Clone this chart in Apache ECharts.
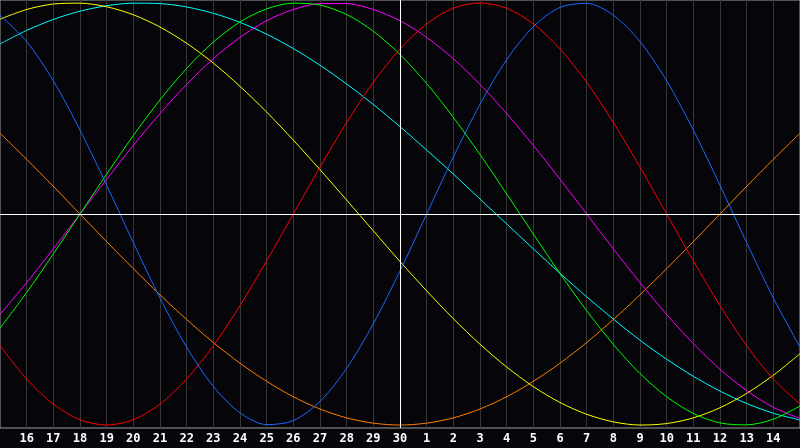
<!DOCTYPE html>
<html>
<head>
<meta charset="utf-8">
<script src="https://cdn.jsdelivr.net/npm/echarts@6/dist/echarts.min.js"></script>
<style>
html,body{margin:0;padding:0;background:#05050a;}
#chart{width:800px;height:448px;}
</style>
</head>
<body>
<div id="chart"></div>
<script>
// day labels (index 0..30); first and last are not shown
const dayLabels = ['15','16','17','18','19','20','21','22','23','24','25','26','27','28','29','30','1','2','3','4','5','6','7','8','9','10','11','12','13','14','15'];
const todayIndex = 15;

const blueValues = [0.942,0.817,0.631,0.398,0.136,-0.136,-0.398,-0.631,-0.817,-0.942,-0.998,-0.979,-0.888,-0.731,-0.520,-0.270,0,0.270,0.520,0.731,0.888,0.979,0.998,0.942,0.817,0.631,0.398,0.136,-0.136,-0.398,-0.631];
const redValues = [-0.624,-0.782,-0.901,-0.975,-1,-0.975,-0.901,-0.782,-0.624,-0.434,-0.222,0,0.222,0.434,0.624,0.782,0.901,0.975,1,0.975,0.901,0.782,0.624,0.434,0.222,0,-0.222,-0.434,-0.624,-0.782,-0.901];
const greenValues = [-0.541,-0.372,-0.189,0,0.189,0.372,0.541,0.690,0.815,0.910,0.972,0.999,0.990,0.945,0.866,0.756,0.618,0.458,0.282,0.095,-0.095,-0.282,-0.458,-0.618,-0.756,-0.866,-0.945,-0.990,-0.999,-0.972,-0.910];
const magentaValues = [-0.476,-0.325,-0.165,0,0.165,0.325,0.476,0.614,0.736,0.837,0.916,0.969,0.997,0.997,0.969,0.916,0.837,0.736,0.614,0.476,0.325,0.165,0,-0.165,-0.325,-0.476,-0.614,-0.736,-0.837,-0.916,-0.969];
const yellowValues = [0.923,0.969,0.995,0.999,0.982,0.944,0.886,0.809,0.715,0.605,0.483,0.350,0.210,0.066,-0.080,-0.225,-0.364,-0.496,-0.617,-0.725,-0.818,-0.893,-0.949,-0.985,-1.000,-0.993,-0.966,-0.918,-0.850,-0.764,-0.662];
const cyanValues = [0.806,0.870,0.922,0.961,0.987,0.999,0.997,0.981,0.951,0.908,0.852,0.784,0.705,0.616,0.519,0.414,0.303,0.189,0.071,-0.047,-0.165,-0.281,-0.392,-0.498,-0.598,-0.688,-0.769,-0.839,-0.898,-0.944,-0.976];
const orangeValues = [0.383,0.259,0.131,0,-0.131,-0.259,-0.383,-0.5,-0.609,-0.707,-0.793,-0.866,-0.924,-0.966,-0.991,-1,-0.991,-0.966,-0.924,-0.866,-0.793,-0.707,-0.609,-0.5,-0.383,-0.259,-0.131,0,0.131,0.259,0.383];

const seriesDefs = [
  {name:'orange', color:'#ff8000', values:orangeValues},
  {name:'cyan', color:'#00ffff', values:cyanValues},
  {name:'yellow', color:'#ffff00', values:yellowValues},
  {name:'magenta', color:'#ff00ff', values:magentaValues},
  {name:'green', color:'#00ff00', values:greenValues},
  {name:'red', color:'#ff0000', values:redValues},
  {name:'blue', color:'#1a6aff', values:blueValues}
];

const chart = echarts.init(document.getElementById('chart'), null, {renderer:'canvas'});

const series = [{
  type:'line', data:[], z:1, silent:true,
  markLine:{
    silent:true, symbol:['none','none'], label:{show:false},
    lineStyle:{color:'#ffffff', width:1, type:'solid'},
    animation:false,
    data:[{xAxis:todayIndex},{yAxis:0}]
  }
}];
seriesDefs.forEach(d => {
  series.push({
    type:'line', name:d.name, z:3,
    data:d.values.map((v,i)=>[i,v]),
    smooth:0.3, showSymbol:false, symbol:'none',
    lineStyle:{color:d.color, width:1},
    itemStyle:{color:d.color},
    silent:true
  });
});

chart.setOption({
  backgroundColor:'#05050a',
  animation:false,
  grid:{left:0, right:0, top:0, bottom:20, show:true, borderColor:'#a0a0a0', borderWidth:1, backgroundColor:'#05050a'},
  xAxis:{
    type:'value', min:0, max:dayLabels.length-1, interval:1,
    axisLine:{show:true, lineStyle:{color:'#a0a0a0', width:1}},
    axisTick:{show:false},
    splitLine:{show:true, showMinLine:false, showMaxLine:false, lineStyle:{color:'#363636', width:1}},
    axisLabel:{
      show:true, color:'#ffffff', fontFamily:'DejaVu Sans Mono', fontWeight:'bold', fontSize:12, margin:5,
      showMinLabel:false, showMaxLabel:false,
      formatter:(v)=> (v<=0 || v>=dayLabels.length-1) ? '' : dayLabels[Math.round(v)]
    }
  },
  yAxis:{
    type:'value', min:-1.014, max:1.014,
    axisLine:{show:false}, axisTick:{show:false}, axisLabel:{show:false}, splitLine:{show:false}
  },
  series:series
});
</script>
</body>
</html>
